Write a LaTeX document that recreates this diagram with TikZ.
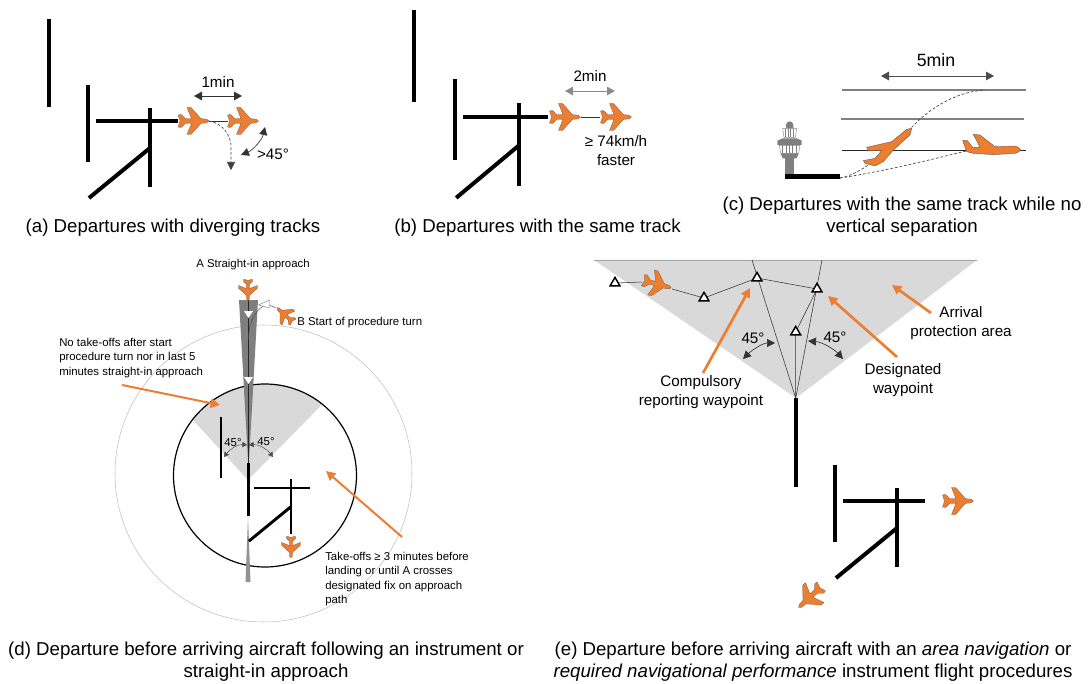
\documentclass[tikz,border=0pt]{standalone}
\usepackage{fontspec}
\setmainfont{Liberation Sans}
\usetikzlibrary{arrows.meta}
\definecolor{planeorange}{RGB}{237,125,49}
\definecolor{planeedge}{RGB}{110,90,70}
\definecolor{zonegray}{RGB}{217,217,217}
\definecolor{wedgegray}{RGB}{127,127,127}
\definecolor{ringgray}{RGB}{190,190,190}
\tikzset{
  caption/.style={align=center, inner sep=0pt, font=\fontsize{14}{16.5}\selectfont},
  label/.style={align=center, inner sep=0pt, font=\fontsize{11.4}{14.2}\selectfont},
  smalllabel/.style={align=left, inner sep=0pt, font=\fontsize{8.55}{10.7}\selectfont},
  runway/.style={line width=3pt, draw=black},
  track/.style={line width=0.4pt, draw=black!80},
  dashtrack/.style={line width=0.5pt, dash pattern=on 2pt off 1.5pt, draw=black!75},
  span/.style={{Triangle[length=6pt,width=6.5pt]}-{Triangle[length=6pt,width=6.5pt]}, line width=0.6pt, draw=black!80},
  smallspan/.style={{Triangle[length=3.5pt,width=4pt]}-{Triangle[length=3.5pt,width=4pt]}, line width=0.35pt, draw=black!70},
  wedgespan/.style={{Triangle[length=6pt,width=6pt]}-{Triangle[length=6pt,width=6pt]}, line width=0.5pt, draw=black!80},
  pointer/.style={-{Triangle[length=7pt,width=7pt]}, line width=2pt, draw=planeorange},
  waypoint/.style={draw=black, line width=1.1pt, fill=white, line join=miter},
  pics/plane/.style={code={
    \filldraw[fill=planeorange, draw=planeedge, line width=0.2pt]
      (15.5,0) -- (13,-1.9) -- (7.5,-2.3) -- (-2.5,-13.5) -- (-6.5,-13.5) -- (-2,-2.3) -- (-8,-2.3)
      -- (-12.5,-6.5) -- (-15.5,-6) -- (-13.5,0) -- (-15.5,6) -- (-12.5,6.5) -- (-8,2.3)
      -- (-2,2.3) -- (-6.5,13.5) -- (-2.5,13.5) -- (7.5,2.3) -- (13,1.9) -- cycle;}},
  pics/runways/.style={code={
    \draw[runway, line width=#1] (-62,-36) -- (-62,41);
    \draw[runway, line width=#1] (-54,0) -- (28,0);
    \draw[runway, line width=#1] (0,-13) -- (0,66);
    \draw[runway, line width=#1] (0,27) -- (-61,77);}}
}
\newcommand{\wptri}[2]{\filldraw[waypoint] (#1) ++(0,-#2) -- ++(0.87*#2,1.5*#2) -- ++(-1.74*#2,0) -- cycle;}
\begin{document}
\begin{tikzpicture}[x=0.75pt, y=-0.75pt]
  \useasboundingbox (0,0) rectangle (1088,684);

  % Diverging tracks
  \draw[runway] (49,19) -- (49,107);
  \pic at (150,121) {runways=3pt};
  \coordinate (tail1a) at (209,121);
  \coordinate (nose2a) at (228,121);
  \coordinate (endturn) at (231,170);
  \coordinate (spanaL) at (194,96);
  \coordinate (spanaR) at (242,96);
  \coordinate (wedgeaT) at (265,127);
  \coordinate (wedgeaB) at (241,155);
  \draw[track] (tail1a) -- (nose2a);
  \pic (plane1a) at (193.5,121) {plane};
  \pic (plane2a) at (243,121) {plane};
  \draw[dashtrack, -{Triangle[length=6pt,width=6pt]}] (tail1a) .. controls (222,123) and (232,135) .. (231,150) -- (endturn);
  \draw[span] (spanaL) -- (spanaR);
  \draw[wedgespan] (wedgeaB) .. controls (253,150) and (262,140) .. (wedgeaT);
  \node[label] (onemin) at (218,82) {1min};
  \node[label] (gt45) at (273,154) {>45°};
  \node[caption] (capa) at (173,228) {(a) Departures with diverging tracks};

  % Same track
  \draw[runway] (414,10) -- (414,102);
  \pic[xscale=1.03, yscale=1.05] at (519,117) {runways=3pt};
  \coordinate (spanbL) at (565,91);
  \coordinate (spanbR) at (615,91);
  \draw[track] (581,117) -- (600,117);
  \pic (plane1b) at (565,117) {plane};
  \pic (plane2b) at (616,117) {plane};
  \draw[span, draw=black!45] (spanbL) -- (spanbR);
  \node[label] (twomin) at (590,76) {2min};
  \node[label] (faster) at (616,150.5) {≥ 74km/h\\faster};
  \node[caption] (capb) at (537.5,228) {(b) Departures with the same track};

  % Same track, no vertical separation
  \draw[line width=0.9pt, draw=wedgegray] (842,90) -- (1026,90);
  \draw[line width=0.9pt, draw=wedgegray] (841,119) -- (1024,119);
  \draw[line width=0.6pt, draw=black!85] (842,150) -- (1026,150);
  \coordinate (rwyend) at (840,178);
  \coordinate (spancL) at (881,76);
  \coordinate (spancR) at (994,76);
  \draw[span, draw=black!70] (spancL) -- (spancR);
  \draw[dashtrack] (rwyend) .. controls (870,172) and (895,140) .. (911,128) .. controls (930,108) and (955,92) .. (985,90);
  \draw[dashtrack] (rwyend) .. controls (880,172) and (930,160) .. (966,151);
  \begin{scope}[shift={(750,30)}, scale=1/3]
    \filldraw[fill=planeorange, draw=planeedge, line width=0.3pt] (485,295) -- (470,298) -- (425,335) -- (350,352) -- (355,362) -- (395,362) -- (375,385) -- (340,392) -- (345,400) -- (375,408) -- (400,395) -- (430,360) -- (480,315) -- cycle;
    \filldraw[fill=planeorange, draw=planeedge, line width=0.3pt] (812,360) -- (805,352) -- (795,348) -- (735,350) -- (690,315) -- (670,313) -- (690,352) -- (668,352) -- (652,332) -- (638,332) -- (650,365) -- (670,370) -- (730,374) -- (795,370) -- (806,366) -- cycle;
    % tower
    \fill[wedgegray] (108,295) -- (108,285) arc[start angle=180, end angle=360, radius=11] -- (130,295) -- cycle;
    \fill[wedgegray] (82,332) -- (98,325) -- (140,325) -- (155,332) -- (155,345) -- (82,345) -- cycle;
    \fill[wedgegray] (92,370) -- (146,370) -- (140,385) -- (98,385) -- cycle;
    \fill[wedgegray] (105,385) rectangle (133,435);
    \draw[wedgegray, line width=0.3pt] (98,296) -- (140,296) -- (136,322) -- (102,322) -- cycle;
    \draw[wedgegray, line width=0.3pt] (88,346) -- (150,346) -- (146,370) -- (92,370) -- cycle;
    \foreach \xa in {106,114,122,130} {\draw[wedgegray, line width=0.3pt] (\xa,296) -- (\xa,322);}
    \foreach \xa in {98,108,118,128,138} {\draw[wedgegray, line width=0.3pt] (\xa,346) -- (\xa,370);}
    \fill[black] (105,433) rectangle (270,448);
  \end{scope}
  \node[label, font=\fontsize{13.3}{16}\selectfont] (fivemin) at (936,60) {5min};
  \node[caption] (capc) at (902,217) {(c) Departures with the same track while no\\vertical separation};

  % Instrument or straight-in approach
  \draw[line width=0.4pt, draw=ringgray] (263.5,473.5) circle[radius=148.5];
  \begin{scope}
    \clip (265,475.5) circle[radius=91.5];
    \fill[zonegray] (248,480) -- (148,371) -- (348,378) -- cycle;
  \end{scope}
  \draw[line width=0.9pt, draw=black] (265,475.5) circle[radius=91.5];
  \fill[wedgegray] (239,300) -- (258,300) -- (248.5,470) -- cycle;
  \fill[wedgegray!85] (248,517) -- (250.5,582) -- (245.5,582) -- cycle;
  \coordinate (wedgetop) at (248.5,300);
  \coordinate (wedgetip) at (248.5,465);
  \coordinate (turnfix) at (267,304);
  \coordinate (planeBnose) at (276,308);
  \draw[line width=0.4pt, draw=black!85] (wedgetop) -- (wedgetip);
  \draw[line width=0.35pt, draw=black!70] (planeBnose) -- (turnfix) .. controls (257,308) and (248.5,320) .. (248.5,340);
  \fill[white] (244,311) -- (253,311) -- (248.5,318) -- cycle;
  \fill[white] (244,377) -- (253,377) -- (248.5,384) -- cycle;
  \filldraw[fill=white, draw=black!55, line width=0.3pt] (258.5,305) -- (269.5,300) -- (269.5,308) -- cycle;
  \pic[rotate=-90, scale=0.7] (planeA) at (248,290) {plane};
  \pic[rotate=138, scale=0.7] (planeB) at (285,315) {plane};
  \pic[rotate=-90, scale=0.7] (planeD) at (291,547) {plane};
  \draw[runway, line width=2.2pt] (221,417) -- (221,478);
  \draw[runway, line width=2.2pt] (248,463) -- (248,516);
  \pic[scale=0.69] at (291,488) {runways=2.2pt};
  \coordinate (vertexd) at (248,445);
  \draw[smallspan] (247,445) .. controls (238,444) and (230,449) .. (224,457);
  \draw[smallspan] (249,445) .. controls (258,444) and (267,449) .. (273,457);
  \coordinate (notestart) at (122,385);
  \coordinate (notetip) at (220,405);
  \coordinate (takestart) at (402,537);
  \coordinate (taketip) at (326,471);
  \draw[pointer, line width=1.5pt] (notestart) -- (notetip);
  \draw[pointer, line width=1.5pt] (takestart) -- (taketip);
  \node[smalllabel] (sec1) at (233,443) {45°};
  \node[smalllabel] (sec2) at (266,442) {45°};
  \node[smalllabel] (labA) at (253,265) {A Straight-in approach};
  \node[smalllabel, anchor=west] (labB) at (297,323) {B Start of procedure turn};
  \node[smalllabel, anchor=west] (labno) at (59,358) {No take-offs after start\\procedure turn nor in last 5\\minutes straight-in approach};
  \node[smalllabel, anchor=west] (labtake) at (325,579) {Take-offs ≥ 3 minutes before\\landing or until A crosses\\designated fix on approach\\path};
  \node[caption] (capd) at (266,662) {(d) Departure before arriving aircraft following an instrument or\\straight-in approach};

  % Area navigation procedures
  \fill[zonegray] (594,260) -- (977,260) -- (796,398) -- cycle;
  \draw[line width=0.5pt, draw=black!35] (594,260) -- (977,260);
  \coordinate (apex) at (795.7,398);
  \coordinate (topL) at (752,260);
  \coordinate (topR) at (822,260);
  \coordinate (wp1) at (615,283);
  \coordinate (wp2) at (704,298);
  \coordinate (wp3) at (757,278);
  \coordinate (wp4) at (817,289);
  \coordinate (wp5) at (795.7,332);
  \draw[track] (apex) -- (topL);
  \draw[track] (apex) -- (topR);
  \draw[track] (apex) -- (wp5) -- (wp4);
  \draw[track] (wp1) -- (642,282);
  \draw[track] (672,289) -- (wp2) -- (wp3) -- (wp4);
  \foreach \wp in {wp1,wp2,wp3,wp4,wp5} {\wptri{\wp}{5.6}}
  \pic[rotate=-15, scale=0.95] (planeE) at (657,284) {plane};
  \draw[runway] (apex) -- (795.7,487);
  \pic at (897,501) {runways=3pt};
  \pic (planeF) at (958,501) {plane};
  \pic[rotate=-137] (planeG) at (810,597) {plane};
  \draw[wedgespan] (775,343) .. controls (763,343) and (752,350) .. (743,359);
  \draw[wedgespan] (808,341) .. controls (822,342) and (834,349) .. (843,359);
  \coordinate (cmpstart) at (703,373);
  \coordinate (cmptip) at (750,288);
  \coordinate (desstart) at (897,357);
  \coordinate (destip) at (828,296);
  \coordinate (arrstart) at (931,313);
  \coordinate (arrtip) at (892,285);
  \draw[pointer] (cmpstart) -- (cmptip);
  \draw[pointer] (desstart) -- (destip);
  \draw[pointer] (arrstart) -- (arrtip);
  \node[label] (sec3) at (753,338) {45°};
  \node[label] (sec4) at (835,337) {45°};
  \node[label] (labcmp) at (701,392.5) {Compulsory\\reporting waypoint};
  \node[label] (labdes) at (903,380) {Designated\\waypoint};
  \node[label] (labarr) at (961,323) {Arrival\\protection area};
  \node[caption] (cape) at (813,662) {(e) Departure before arriving aircraft with an \textit{area navigation} or\\\textit{required navigational performance} instrument flight procedures};
\end{tikzpicture}
\end{document}
